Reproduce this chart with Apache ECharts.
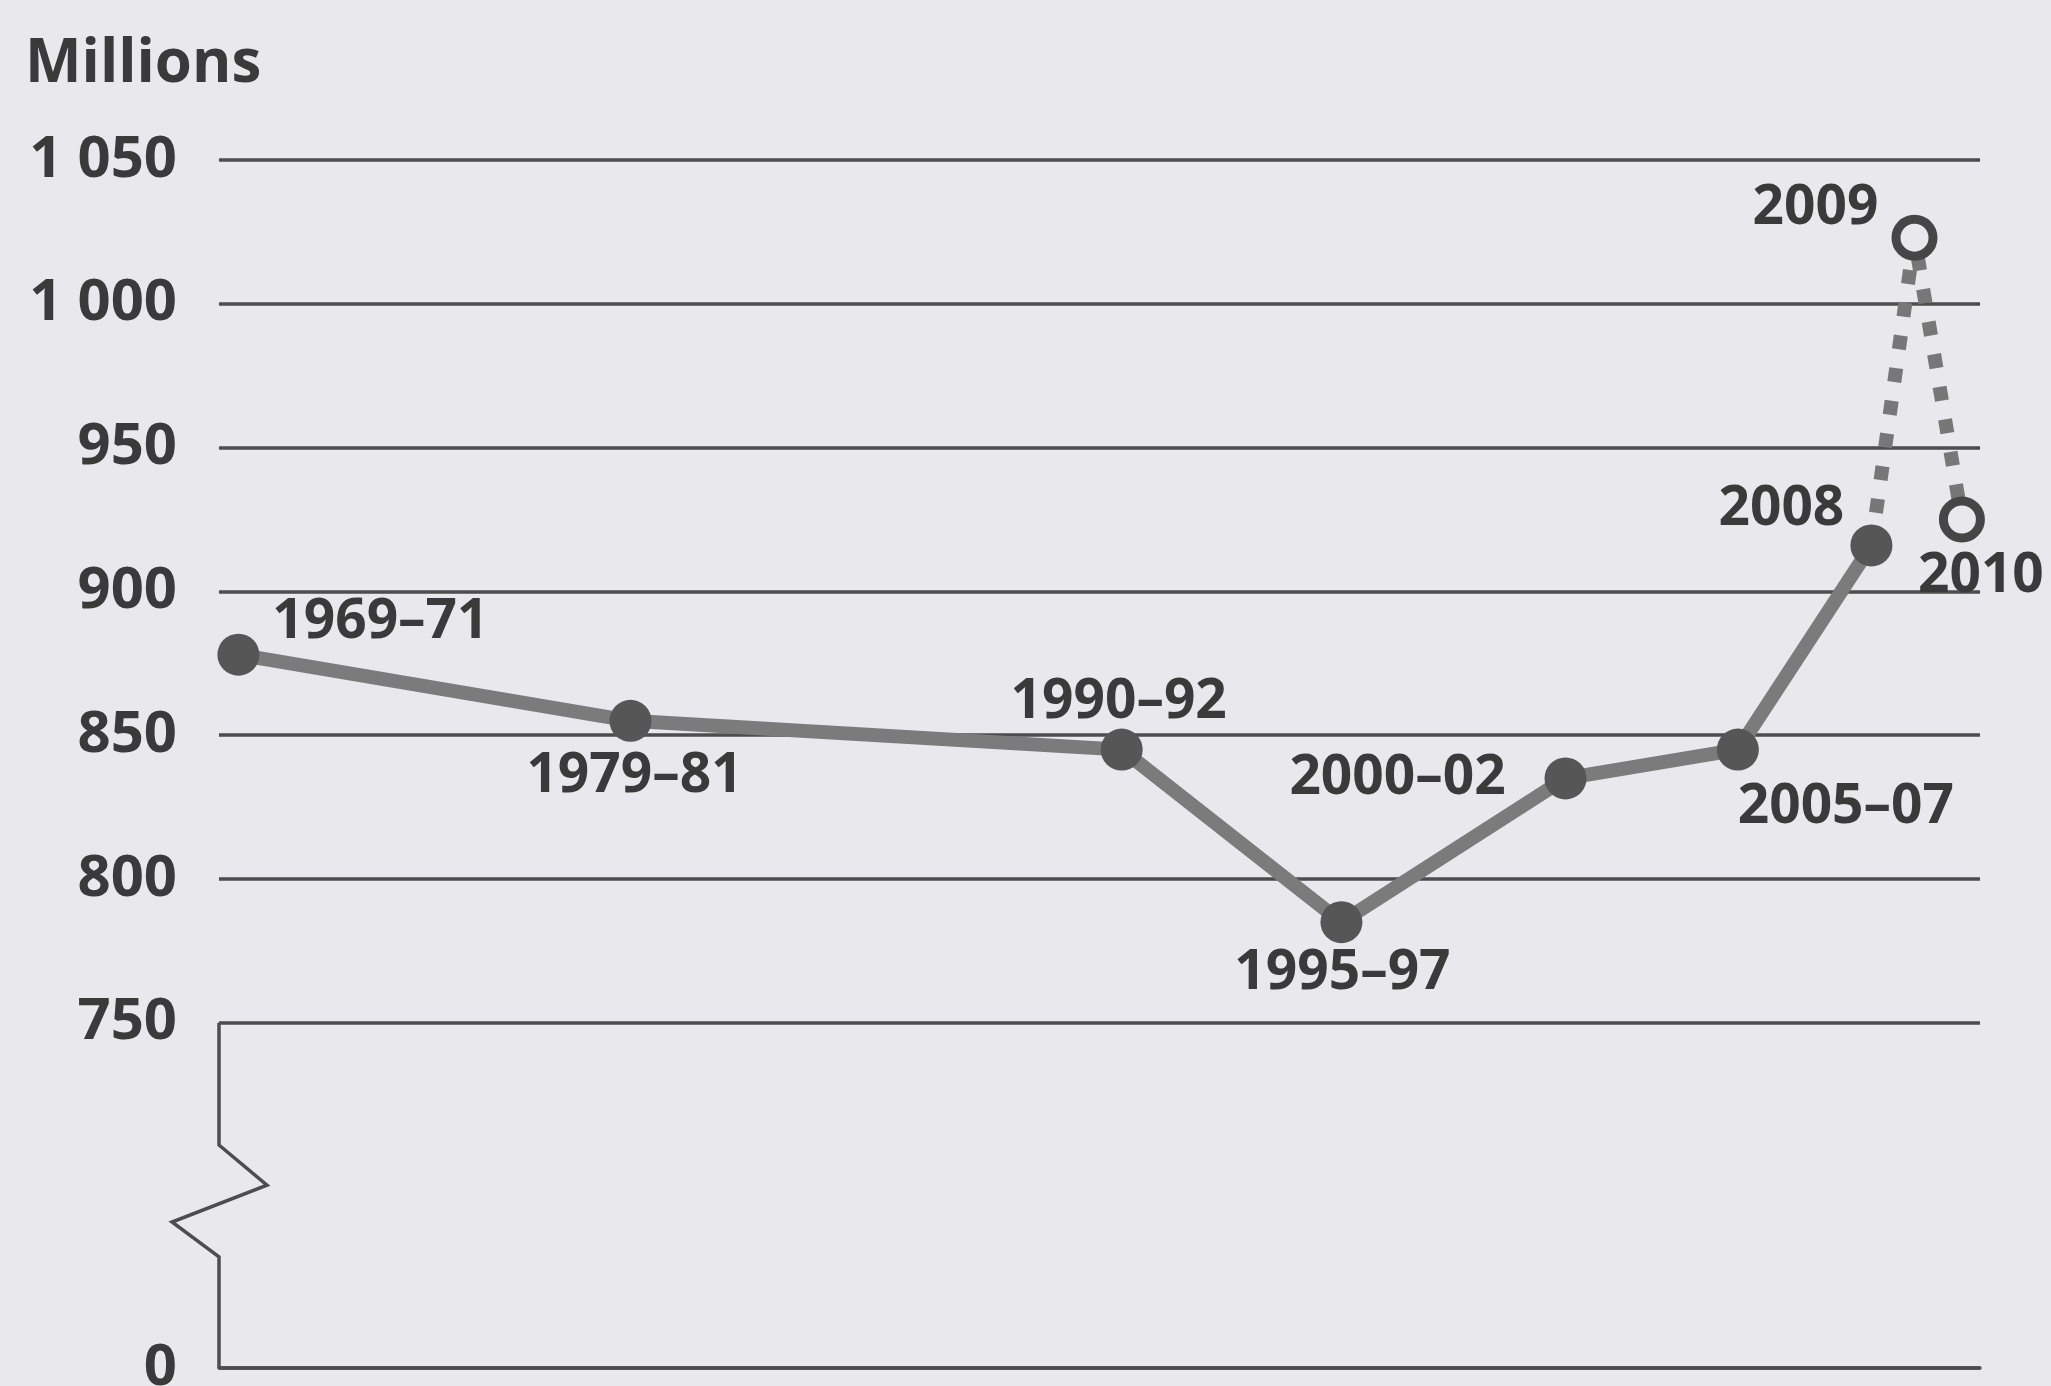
<!DOCTYPE html>
<html>
<head>
<meta charset="utf-8">
<title>Undernourished people in the world</title>
<script src="https://cdn.jsdelivr.net/npm/echarts@6/dist/echarts.min.js"></script>
<style>
  html, body { margin: 0; padding: 0; background: #e8e8ed; }
  #chart { width: 2051px; height: 1386px; }
</style>
</head>
<body>
<div id="chart"></div>
<script>
// periods and values (millions)
const periods = ['1969–71', '1979–81', '1990–92', '1995–97', '2000–02', '2005–07', '2008', '2009', '2010']
// horizontal place of each period along the time axis, as drawn
const xPos = [1970, 1979.1, 1990.5, 1995.6, 2000.8, 2004.8, 2007.9, 2008.9, 2010]
const undernourished = [878, 855, 845, 785, 835, 845, 916, 1023, 925]
const projectedFrom = 6 // 2008 -> 2009 -> 2010 is drawn dotted
const yTickLabels = [0, 750, 800, 850, 900, 950, 1000, 1050]

// the axis is broken: everything between 0 and 750 is squeezed into this band
const yBreakBase = 630
const toAxis = v => (v < 750 ? yBreakBase : v)

// label placement (offset of label centre from the point), px
const labelOffset = {
  '1969–71': [142, -32],
  '1979–81': [4, 55],
  '1990–92': [-3, -47],
  '1995–97': [1, 51],
  '2000–02': [-168, 0],
  '2005–07': [108, 58],
  '2008': [-90, -36],
  '2009': [-99, -29],
  '2010': [19, 57],
}

const FONT = '"Open Sans", "Noto Sans", sans-serif'
const BG = '#e8e8ed'
const INK = '#3a3a3a'
const GRIDC = '#4d4d4d'

function labelFor(i) {
  return {
    show: true,
    position: 'inside',
    offset: labelOffset[periods[i]],
    formatter: periods[i],
    fontFamily: FONT,
    fontSize: 55,
    fontWeight: 'bold',
    color: INK,
  }
}

const solidData = []
for (let i = 0; i <= projectedFrom; i++) {
  solidData.push({ value: [xPos[i], undernourished[i]], label: labelFor(i) })
}
const dottedData = []
for (let i = projectedFrom; i < periods.length; i++) {
  const item = { value: [xPos[i], undernourished[i]] }
  if (i === projectedFrom) item.symbol = 'none'
  else item.label = labelFor(i)
  dottedData.push(item)
}

const xMin = 1969.55, xMax = 2010.42

const chart = echarts.init(document.getElementById('chart'))
chart.setOption({
  animation: false,
  backgroundColor: BG,
  title: {
    text: 'Millions', left: 20, top: 30,
    textStyle: { fontFamily: FONT, fontSize: 60, fontWeight: 'bold', color: INK },
  },
  grid: { left: 219, right: 71, top: 160, bottom: 18, outerBoundsMode: 'none' },
  xAxis: {
    type: 'value', min: xMin, max: xMax,
    axisLine: { show: true, lineStyle: { color: GRIDC, width: 3.5 } },
    axisTick: { show: false }, axisLabel: { show: false }, splitLine: { show: false },
  },
  yAxis: {
    type: 'value', min: yBreakBase, max: 1050,
    axisLine: { show: false },
    axisTick: { show: false, customValues: yTickLabels.map(toAxis) },
    axisLabel: {
      customValues: yTickLabels.map(toAxis),
      formatter: v => (v === yBreakBase ? '0' : String(v).replace(/\B(?=(\d{3})+$)/, ' ')),
      fontFamily: FONT, fontSize: 58, fontWeight: 'bold', color: INK, margin: 42,
    },
    splitLine: { show: true, lineStyle: { color: GRIDC, width: 3.5 } },
  },
  series: [
    {
      type: 'line', z: 3,
      data: solidData,
      symbol: 'circle', symbolSize: 42,
      itemStyle: { color: '#565656' },
      lineStyle: { color: '#7b7b7b', width: 14 },
    },
    {
      type: 'line', z: 2,
      data: dottedData,
      symbol: 'circle', symbolSize: 37,
      itemStyle: { color: BG, borderColor: '#464646', borderWidth: 9 },
      lineStyle: { color: '#777777', width: 14, type: [14, 19], cap: 'butt' },
    },
  ],
})

// left axis line with the zigzag break, placed from the axis scale
const pTop = chart.convertToPixel({ gridIndex: 0 }, [xMin, 750])
const pBot = chart.convertToPixel({ gridIndex: 0 }, [xMin, yBreakBase])
const ax = pTop[0], bandH = pBot[1] - pTop[1]
const at = f => pTop[1] + f * bandH
chart.setOption({
  graphic: [{
    type: 'polyline', z: 10,
    shape: { points: [[ax, pTop[1]], [ax, at(0.354)], [ax + 48, at(0.47)], [ax - 47, at(0.577)], [ax, at(0.678)], [ax, pBot[1]]] },
    style: { stroke: GRIDC, lineWidth: 3.5, fill: null },
  }],
})
</script>
</body>
</html>
